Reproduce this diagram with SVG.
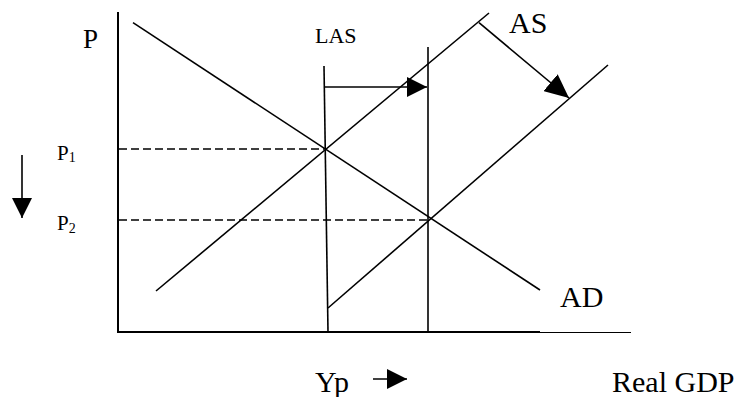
<svg xmlns="http://www.w3.org/2000/svg" width="741" height="397" viewBox="0 0 741 397">
<style>
.ln{stroke:#000;stroke-width:1.6;fill:none;stroke-linecap:butt}
.ax{stroke:#000;stroke-width:2;fill:none}
.ds{stroke:#000;stroke-width:1.5;fill:none;stroke-dasharray:8,4}
text{font-family:'Liberation Serif','DejaVu Serif',serif;fill:#000}
</style>
<defs>
<marker id="ah" markerUnits="userSpaceOnUse" markerWidth="20" markerHeight="20" refX="20" refY="10" orient="auto" viewBox="0 0 20 20">
<path d="M0,0 L20,10 L0,20 z" fill="#000"/>
</marker>
<marker id="ahb" markerUnits="userSpaceOnUse" markerWidth="24" markerHeight="22" refX="24" refY="11" orient="auto" viewBox="0 0 24 22">
<path d="M0,0 L24,11 L0,22 z" fill="#000"/>
</marker>
</defs>
<rect width="741" height="397" fill="#fff"/>
<g id="axes">
<line class="ax" x1="118" y1="12" x2="118" y2="332"/>
<line class="ax" x1="117" y1="332" x2="540" y2="332"/>
<line x1="540" y1="332.5" x2="631" y2="332.5" stroke="#000" stroke-width="1"/>
</g>
<g id="guides">
<line class="ds" x1="119" y1="149" x2="324" y2="149"/>
<line class="ds" x1="119" y1="220" x2="428" y2="220"/>
</g>
<g id="AD">
<line class="ln" x1="133" y1="22.7" x2="540" y2="290"/>
<text x="560" y="307" font-size="30" font-family="Liberation Serif, serif">AD</text>
</g>
<g id="AS1">
<line class="ln" x1="156" y1="291" x2="489" y2="13"/>
<text x="509" y="33" font-size="30" font-family="Liberation Serif, serif">AS</text>
</g>
<g id="AS2">
<line class="ln" x1="328" y1="308" x2="608" y2="65"/>
</g>
<g id="LAS1">
<line class="ln" x1="324" y1="66" x2="328" y2="332"/>
<text x="315" y="43" font-size="22" font-family="Liberation Serif, serif">LAS</text>
</g>
<g id="LAS2">
<line class="ln" x1="428" y1="47" x2="428" y2="332"/>
</g>
<g id="labels">
<text x="83" y="48" font-size="27" font-family="Liberation Serif, serif">P</text>
<text x="57" y="160" font-size="21" font-family="Liberation Serif, serif">P<tspan font-size="14" dy="2">1</tspan></text>
<text x="57" y="230" font-size="21" font-family="Liberation Serif, serif">P<tspan font-size="14" dy="3">2</tspan></text>
<text x="315" y="392" font-size="30" font-family="Liberation Serif, serif">Yp</text>
<text x="612" y="392" font-size="30" font-family="Liberation Serif, serif">Real GDP</text>
</g>
<g id="connectors">
<line class="ln" x1="324" y1="87" x2="427" y2="87" marker-end="url(#ah)"/>
<line class="ln" x1="479" y1="22.7" x2="569" y2="98" marker-end="url(#ahb)"/>
<line class="ln" x1="22" y1="155" x2="22" y2="218" marker-end="url(#ah)"/>
<line class="ln" x1="373" y1="379" x2="407" y2="379" marker-end="url(#ah)"/>
</g>
</svg>
